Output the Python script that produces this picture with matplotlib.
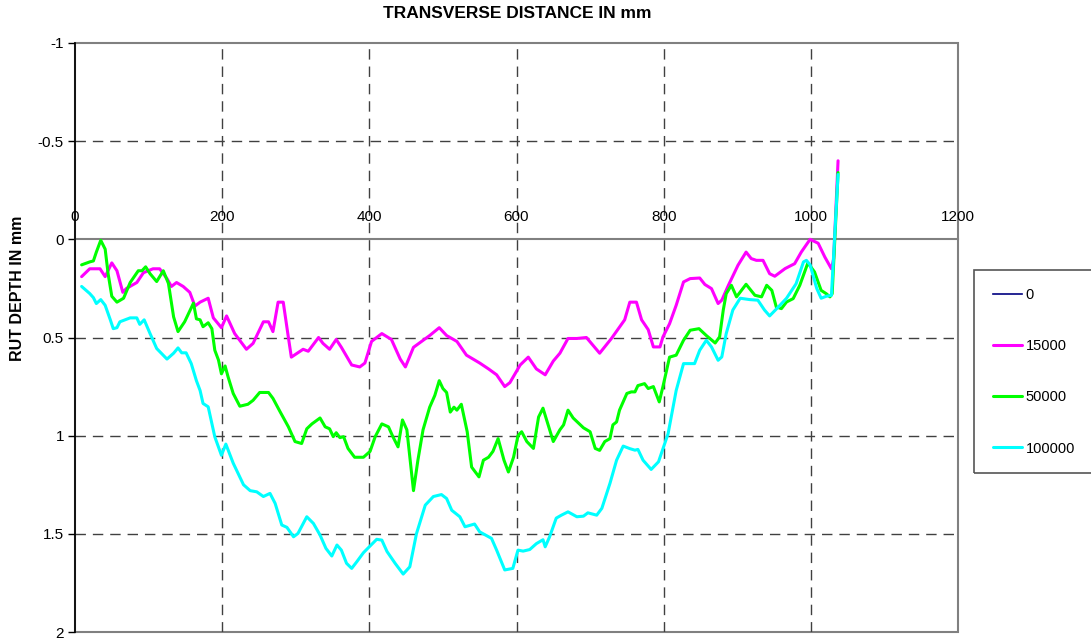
import matplotlib
matplotlib.use("Agg")
import matplotlib.pyplot as plt
from matplotlib.patches import Rectangle

plt.rcParams['font.family'] = ['Liberation Sans', 'DejaVu Sans']

# transverse distance (mm) and rut depth (mm) for each load count
dist_15000 = [9, 20, 34, 41, 50, 57, 65, 70, 84, 93, 106, 115, 125, 131, 138, 147, 156, 163, 170, 181,
              188, 199, 206, 217, 233, 242, 256, 263, 269, 276, 283, 290, 294, 310, 317, 331, 337, 346,
              355, 362, 376, 387, 394, 403, 417, 430, 442, 449, 460, 471, 482, 495, 505, 519, 532, 541,
              550, 562, 573, 584, 591, 605, 616, 627, 639, 650, 659, 670, 682, 695, 713, 729, 747, 754,
              763, 770, 779, 786, 795, 799, 808, 817, 827, 836, 849, 856, 865, 874, 879, 888, 901, 912,
              919, 926, 935, 944, 951, 965, 978, 987, 999, 1010, 1019, 1028, 1031, 1037]
rut_15000 = [0.19, 0.15, 0.15, 0.19, 0.12, 0.16, 0.27, 0.25, 0.22, 0.17, 0.15, 0.15, 0.20, 0.24, 0.22,
             0.24, 0.27, 0.34, 0.32, 0.30, 0.40, 0.45, 0.39, 0.48, 0.56, 0.53, 0.42, 0.42, 0.47, 0.32,
             0.32, 0.50, 0.60, 0.56, 0.57, 0.50, 0.53, 0.56, 0.51, 0.55, 0.64, 0.65, 0.63, 0.52, 0.48,
             0.51, 0.61, 0.65, 0.55, 0.52, 0.49, 0.45, 0.49, 0.52, 0.59, 0.61, 0.63, 0.66, 0.69, 0.75,
             0.73, 0.64, 0.60, 0.66, 0.69, 0.62, 0.58, 0.505, 0.505, 0.50, 0.58, 0.505, 0.41, 0.32,
             0.32, 0.41, 0.46, 0.548, 0.548, 0.497, 0.43, 0.336, 0.217, 0.20, 0.197, 0.23, 0.251,
             0.327, 0.31, 0.234, 0.132, 0.065, 0.098, 0.107, 0.107, 0.175, 0.188, 0.149, 0.124, 0.065,
             0.0, 0.02, 0.09, 0.15, 0.10, -0.40]

dist_50000 = [9, 20, 25, 29, 35, 41, 45, 50, 57, 66, 75, 86, 91, 96, 102, 111, 120, 127, 134, 140, 149,
              161, 165, 170, 174, 181, 186, 190, 195, 199, 204, 208, 215, 224, 235, 242, 251, 263, 269,
              279, 290, 299, 308, 315, 322, 333, 340, 346, 351, 355, 360, 365, 371, 380, 392, 401, 408,
              417, 426, 432, 439, 445, 451, 455, 460, 466, 473, 482, 489, 495, 500, 505, 510, 515, 519,
              525, 533, 539, 549, 555, 562, 568, 575, 583, 589, 596, 602, 607, 614, 623, 630, 636, 643,
              650, 659, 664, 670, 677, 691, 700, 707, 713, 720, 727, 731, 736, 740, 750, 756, 761, 765,
              774, 779, 786, 794, 799, 808, 817, 827, 836, 848, 858, 870, 876, 881, 885, 892, 899, 912,
              924, 933, 940, 947, 953, 960, 967, 976, 985, 996, 1005, 1014, 1021, 1026, 1029, 1037]
rut_50000 = [0.13, 0.115, 0.11, 0.065, 0.005, 0.05, 0.175, 0.29, 0.32, 0.30, 0.22, 0.16, 0.16, 0.14,
             0.175, 0.215, 0.16, 0.225, 0.395, 0.47, 0.42, 0.325, 0.405, 0.41, 0.445, 0.425, 0.455,
             0.565, 0.615, 0.685, 0.645, 0.70, 0.785, 0.85, 0.84, 0.82, 0.78, 0.78, 0.81, 0.88, 0.955,
             1.03, 1.04, 0.965, 0.94, 0.91, 0.955, 0.965, 1.005, 0.985, 1.01, 1.005, 1.065, 1.11, 1.11,
             1.08, 1.005, 0.94, 0.955, 1.005, 1.057, 0.92, 0.97, 1.11, 1.28, 1.125, 0.97, 0.855, 0.795,
             0.72, 0.76, 0.78, 0.88, 0.855, 0.87, 0.84, 0.98, 1.16, 1.21, 1.125, 1.11, 1.08, 1.015,
             1.125, 1.185, 1.11, 1.0, 0.98, 1.03, 1.065, 0.905, 0.86, 0.945, 1.03, 0.97, 0.945, 0.87,
             0.91, 0.96, 0.98, 1.065, 1.075, 1.03, 1.015, 0.945, 0.93, 0.87, 0.785, 0.777, 0.777,
             0.745, 0.735, 0.76, 0.75, 0.828, 0.75, 0.60, 0.59, 0.514, 0.463, 0.455, 0.49, 0.528,
             0.497, 0.36, 0.277, 0.234, 0.293, 0.229, 0.285, 0.293, 0.234, 0.26, 0.344, 0.353, 0.319,
             0.302, 0.234, 0.12, 0.166, 0.26, 0.277, 0.293, 0.277, -0.34]

dist_100000 = [9, 20, 25, 29, 35, 41, 48, 52, 57, 61, 75, 84, 88, 94, 102, 111, 125, 134, 140, 145, 151,
               158, 165, 170, 174, 181, 190, 199, 205, 215, 229, 238, 247, 256, 265, 272, 281, 288, 297,
               303, 315, 324, 333, 341, 349, 356, 362, 369, 376, 383, 392, 401, 410, 417, 424, 435, 446,
               455, 464, 476, 487, 498, 505, 512, 523, 530, 543, 550, 566, 573, 584, 595, 602, 609, 618,
               627, 636, 639, 645, 654, 661, 670, 682, 691, 697, 709, 716, 727, 736, 745, 754, 761, 765,
               772, 783, 793, 806, 817, 827, 838, 842, 849, 858, 865, 874, 879, 885, 894, 904, 917, 928,
               937, 944, 956, 967, 980, 990, 994, 999, 1008, 1014, 1021, 1028, 1037]
rut_100000 = [0.24, 0.276, 0.297, 0.327, 0.307, 0.336, 0.41, 0.455, 0.45, 0.42, 0.40, 0.40, 0.433, 0.41,
              0.48, 0.556, 0.61, 0.58, 0.553, 0.578, 0.578, 0.633, 0.72, 0.77, 0.836, 0.853, 1.006,
              1.10, 1.043, 1.14, 1.25, 1.28, 1.286, 1.31, 1.294, 1.345, 1.455, 1.467, 1.515, 1.498,
              1.413, 1.447, 1.506, 1.574, 1.613, 1.557, 1.583, 1.65, 1.676, 1.642, 1.596, 1.562, 1.528,
              1.532, 1.59, 1.65, 1.705, 1.668, 1.50, 1.354, 1.31, 1.30, 1.32, 1.38, 1.413, 1.464, 1.45,
              1.49, 1.523, 1.583, 1.684, 1.676, 1.583, 1.588, 1.58, 1.55, 1.53, 1.566, 1.515, 1.42,
              1.405, 1.388, 1.413, 1.41, 1.393, 1.405, 1.37, 1.243, 1.125, 1.053, 1.066, 1.074, 1.07,
              1.125, 1.172, 1.133, 0.99, 0.77, 0.633, 0.633, 0.633, 0.565, 0.514, 0.548, 0.616, 0.599,
              0.48, 0.36, 0.30, 0.307, 0.31, 0.36, 0.39, 0.344, 0.30, 0.226, 0.115, 0.107, 0.13, 0.25,
              0.30, 0.29, 0.285, -0.33]

dist_0 = []
rut_0 = []

x_ticks = [0, 200, 400, 600, 800, 1000, 1200]
y_ticks = [-1, -0.5, 0, 0.5, 1, 1.5, 2]
y_labels = ['-1', '-0.5', '0', '0.5', '1', '1.5', '2']

fig = plt.figure(figsize=(10.91, 6.41), dpi=100)
ax = fig.add_axes([75 / 1091, 1 - 632 / 641, (958 - 75) / 1091, (632 - 43) / 641])

ax.set_xlim(0, 1200)
ax.set_ylim(2, -1)

# dashed grid
for xv in x_ticks[1:-1]:
    ax.axvline(xv, color='#404040', lw=1, ls=(0, (7.5, 5)), zorder=1)
for yv in [-0.5, 0.5, 1, 1.5]:
    ax.axhline(yv, color='#404040', lw=1, ls=(0, (7.5, 5)), zorder=1)

style = dict(lw=2.2, solid_joinstyle='round', solid_capstyle='round', zorder=3)
ax.plot(dist_0, rut_0, color='#000080', lw=1.2, label='0')
ax.plot(dist_15000, rut_15000, color='#ff00ff', label='15000', **style)
ax.plot(dist_50000, rut_50000, color='#00ff00', label='50000', **style)
ax.plot(dist_100000, rut_100000, color='#00ffff', label='100000', **style)

# frame: gray box, black left axis, x axis crossing at 0
for s in ['right', 'bottom']:
    ax.spines[s].set_visible(False)
ax.add_patch(Rectangle((0, 0), 1, 1, transform=ax.transAxes, fill=False,
                       edgecolor='#808080', lw=1.5, zorder=0.5, clip_on=False))
ax.spines['left'].set_color('black')
ax.spines['left'].set_linewidth(1.2)
ax.spines['left'].set_zorder(4)
ax.spines['top'].set_position(('data', 0))
ax.spines['top'].set_color('#808080')
ax.spines['top'].set_linewidth(1.5)

ax.xaxis.set_ticks_position('top')
ax.set_xticks(x_ticks)
ax.tick_params(axis='x', length=0, pad=11, labelsize=11)
ax.set_yticks(y_ticks)
ax.set_yticklabels(y_labels)
ax.tick_params(axis='y', length=5, width=1, pad=3, labelsize=11)

fig.text(517 / 1091, 1 - 13 / 641, 'TRANSVERSE DISTANCE IN mm', ha='center', va='center',
         fontsize=12.5, fontweight='bold')
fig.text(18 / 1091, 1 - 288 / 641, 'RUT DEPTH IN mm', ha='center', va='center',
         rotation=90, fontsize=11.5, fontweight='bold')

# legend box runs off the right edge, as in the original
fig.patches.append(Rectangle((974 / 1091, 1 - 473 / 641), 130 / 1091, 203 / 641,
                             transform=fig.transFigure, fill=False, edgecolor='#555555', lw=1.2))
fig.legend(loc='upper left', bbox_to_anchor=(993 / 1091, 1 - 288 / 641), frameon=False,
           fontsize=10.5, handlelength=2.0, handletextpad=0.25, labelspacing=2.55,
           borderpad=0, borderaxespad=0)

fig.savefig('out.png', dpi=100)
